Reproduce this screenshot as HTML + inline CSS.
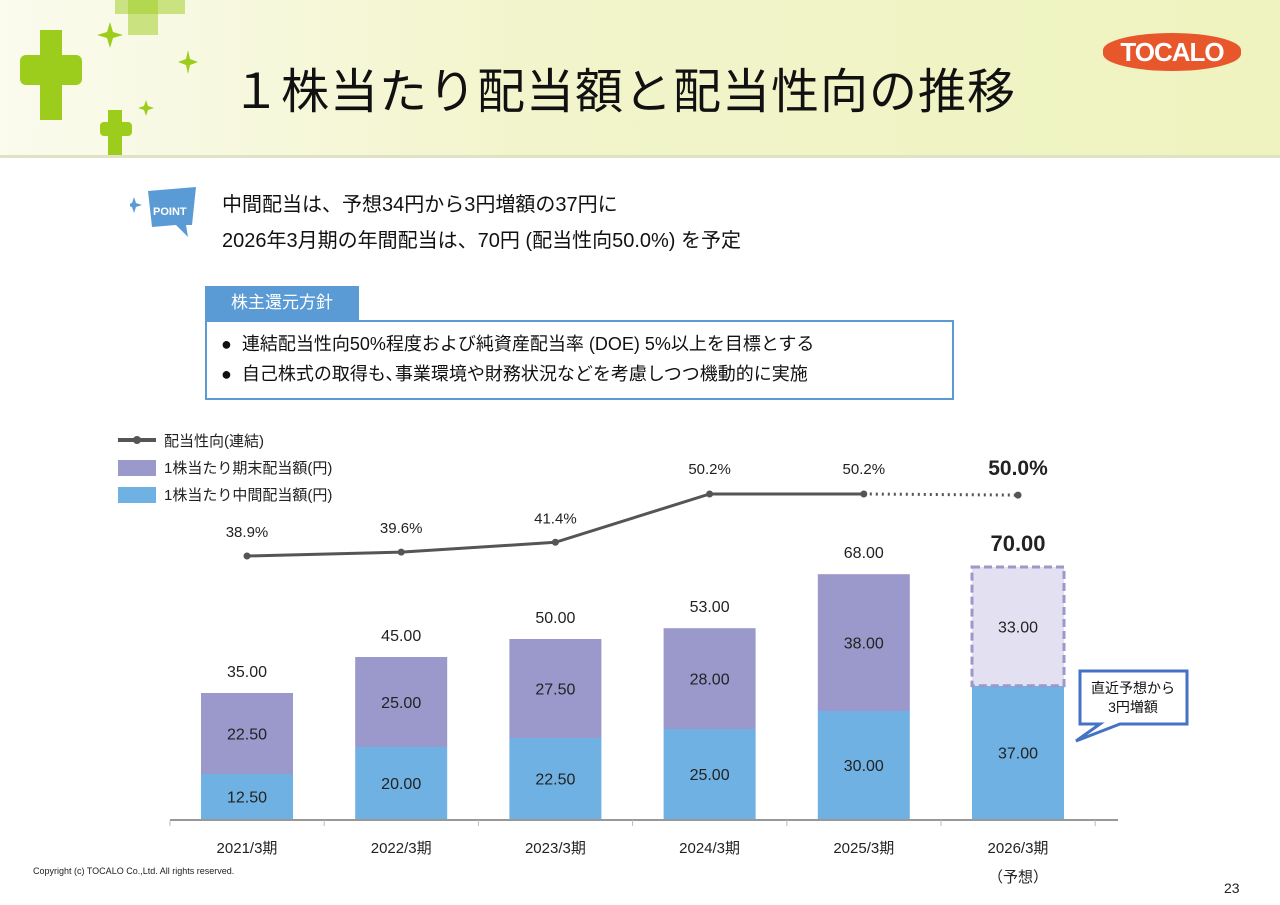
<!DOCTYPE html>
<html><head><meta charset="utf-8"><style>
body{margin:0;width:1280px;height:905px;position:relative;background:#fff;font-family:"Liberation Sans","Noto Sans CJK JP",sans-serif;overflow:hidden}
.a{position:absolute}
</style></head><body>
<div class="a" style="left:0;top:0;width:1280px;height:155px;background:linear-gradient(90deg,#fbfbee 0%,#f2f5cc 40%,#eef3bf 100%);border-bottom:3px solid #dfe3c4"></div>
<svg class="a" style="left:0;top:0" width="200" height="155">
<g fill="#9ccc1c"><rect x="40" y="30" width="22" height="90"/><rect x="20" y="55" width="62" height="30" rx="6"/>
<rect x="108" y="110" width="14" height="45"/><rect x="100" y="122" width="32" height="14" rx="4"/>
<rect x="128" y="0" width="30" height="35" opacity="0.5"/><rect x="115" y="0" width="70" height="14" opacity="0.5"/></g>
<g fill="#9ccc1c"><path d="M110 22 l3 10 10 3 -10 3 -3 10 -3 -10 -10 -3 10 -3z"/><path d="M188 50 l2 9 8 3 -8 3 -2 9 -2 -9 -8 -3 8 -3z"/><path d="M146 100 l2 6 6 2 -6 2 -2 6 -2 -6 -6 -2 6 -2z"/></g></svg>
<div class="a" style="left:232px;top:52px;font-size:48px;color:#111;letter-spacing:1px">１株当たり配当額と配当性向の推移</div>
<div class="a" style="left:1103px;top:33px;width:138px;height:38px;background:#e8572b;border-radius:50%/45%;color:#fff;font-weight:bold;font-size:26px;text-align:center;line-height:38px;letter-spacing:-1px">TOCALO</div>
<svg class="a" style="left:130px;top:185px" width="70" height="55"><path d="M4 12 l2 6 6 2 -6 2 -2 6 -2-6 -6-2 6-2z" fill="#5b9bd5"/><path d="M18 6 L66 2 L62 40 L56 40 L58 52 L46 40 L22 42 Z" fill="#5b9bd5"/><text x="23" y="30" fill="#fff" font-size="11" font-weight="bold" font-family="Liberation Sans">POINT</text></svg>
<div class="a" style="left:222px;top:187px;font-size:20px;line-height:36px;color:#111">中間配当は、予想34円から3円増額の37円に<br>2026年3月期の年間配当は、70円 (配当性向50.0%) を予定</div>
<div class="a" style="left:205px;top:286px;width:154px;height:34px;background:#5b9bd5;color:#fff;font-size:17px;line-height:34px;text-align:center">株主還元方針</div>
<div class="a" style="left:205px;top:320px;width:745px;height:76px;border:2px solid #5b9bd5;font-size:18px;line-height:30px;padding:7px 0 0 14px;box-sizing:border-box;width:749px;height:80px;color:#111">●&nbsp; 連結配当性向50%程度および純資産配当率 (DOE) 5%以上を目標とする<br>●&nbsp; 自己株式の取得も､事業環境や財務状況などを考慮しつつ機動的に実施</div>
<div class="a" style="left:33px;top:866px;font-size:9px;color:#222">Copyright (c) TOCALO Co.,Ltd. All rights reserved.</div>
<div class="a" style="left:1224px;top:880px;font-size:14px;color:#222">23</div>
<svg class="a" id="chart" style="left:0;top:0" width="1280" height="905"></svg>
<script>
const categories=["2021/3期","2022/3期","2023/3期","2024/3期","2025/3期","2026/3期"];
const interim=[12.5,20,22.5,25,30,37];
const yearEnd=[22.5,25,27.5,28,38,33];
const totals=[35,45,50,53,68,70];
const payout=[38.9,39.6,41.4,50.2,50.2,50.0];
const svg=document.getElementById('chart');const NS='http://www.w3.org/2000/svg';
function mk(t,a,p){const e=document.createElementNS(NS,t);for(const k in a)e.setAttribute(k,a[k]);(p||svg).appendChild(e);return e;}
const base=819,k=3.6;
const x=i=>247+i*154.2;
const y=v=>base-v*k;
const yr=r=>556-(r-38.9)*5.487;
const bw=92;
const ax=mk('line',{x1:170,x2:1118,y1:base+1,y2:base+1,stroke:'#777','stroke-width':1.5});


for(let i=0;i<=6;i++){const t=mk('line',{x1:x(i)-77,x2:x(i)-77,y1:base+1,y2:base+7,stroke:'#bbb'});

}
categories.forEach((c,i)=>{
const last=i===categories.length-1;
const b1=mk('rect',{x:x(i)-bw/2,y:y(interim[i]),width:bw,height:interim[i]*k,fill:'#6fb1e2'});


const b2=mk('rect',{x:x(i)-bw/2,y:y(interim[i]+yearEnd[i]),width:bw,height:yearEnd[i]*k,fill:last?'#e3e1f1':'#9b98cb',stroke:last?'#9b98cb':'none','stroke-width':last?3:0,'stroke-dasharray':'8 4'});


const tx=(s,xx,yy,fs,w,nm)=>{const t=mk('text',{x:xx,y:yy,'text-anchor':'middle','font-size':fs,'font-weight':w||'normal',fill:'#222','font-family':'Liberation Sans, Noto Sans CJK JP, sans-serif'});t.textContent=s;

return t;};
tx(interim[i].toFixed(2),x(i),y(interim[i]/2)+6,16,0,'interim-label');
tx(yearEnd[i].toFixed(2),x(i),y(interim[i]+yearEnd[i]/2)+6,16,0,'year-end-label');
tx(totals[i].toFixed(2),x(i),y(totals[i])-16,last?22:16,last?'bold':0,'total-label');
tx(payout[i].toFixed(1)+'%',x(i),yr(payout[i])-(i<3?19:20),last?21:15,last?'bold':0,'payout-label');
tx(c,x(i),853,15,0,'category-label');
});
const tf=mk('text',{x:x(5),y:882,'text-anchor':'middle','font-size':15,fill:'#222'});tf.textContent='（予想）';


let d='';for(let i=0;i<5;i++)d+=(i?'L':'M')+x(i)+' '+yr(payout[i]);
const ln=mk('path',{d:d,stroke:'#555','stroke-width':3,fill:'none'});


const dl=mk('line',{x1:x(4),y1:yr(payout[4]),x2:x(5),y2:yr(payout[5]),stroke:'#555','stroke-width':3,'stroke-dasharray':'2 4'});


payout.forEach((p,i)=>{const c=mk('circle',{cx:x(i),cy:yr(p),r:3.5,fill:'#555'});

});
// legend
const lg=mk('g',{});
mk('line',{x1:118,x2:156,y1:440,y2:440,stroke:'#555','stroke-width':4},lg);mk('circle',{cx:137,cy:440,r:4,fill:'#555'},lg);
mk('rect',{x:118,y:460,width:38,height:16,fill:'#9b98cb'},lg);mk('rect',{x:118,y:487,width:38,height:16,fill:'#6fb1e2'},lg);
[['配当性向(連結)',446],['1株当たり期末配当額(円)',473],['1株当たり中間配当額(円)',500]].forEach(a=>{const t=mk('text',{x:164,y:a[1],'font-size':15,fill:'#222'},lg);t.textContent=a[0];});
</script>
<svg class="a" style="left:1070px;top:668px" width="125" height="80"><path d="M10 3 H117 V56 H50 L6 73 L30 56 H10 Z" fill="#fff" stroke="#4472c4" stroke-width="3"/><text x="63" y="25" text-anchor="middle" font-size="14" fill="#111">直近予想から</text><text x="63" y="44" text-anchor="middle" font-size="14" fill="#111">3円増額</text></svg>
</body></html>
